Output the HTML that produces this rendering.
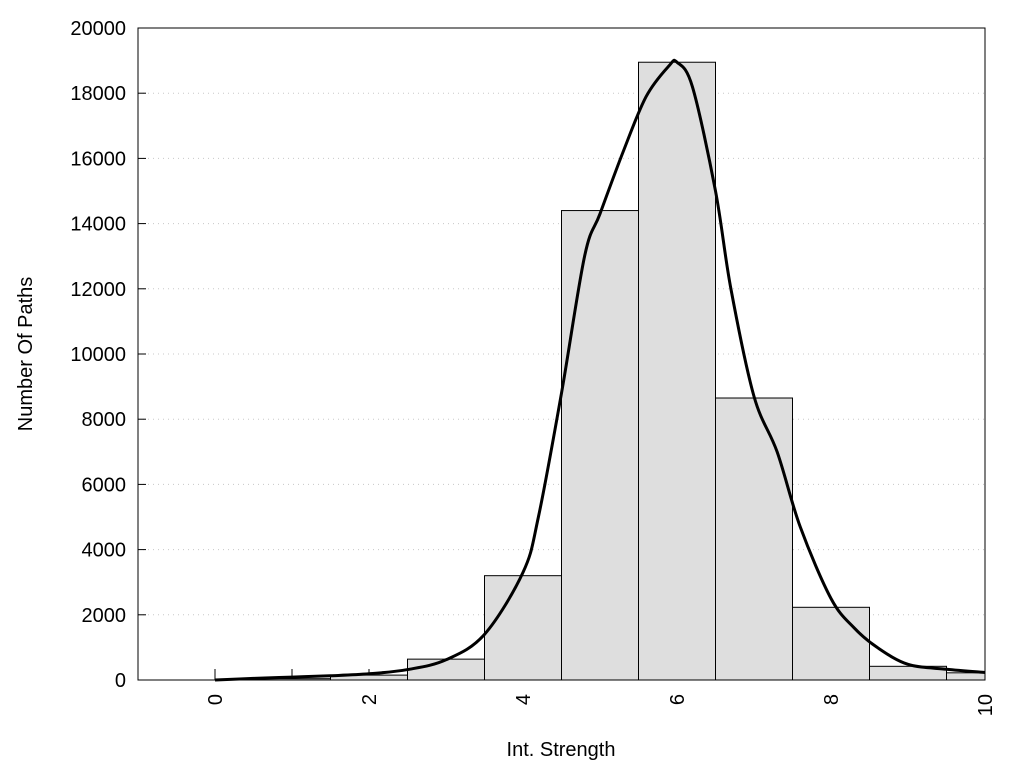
<!DOCTYPE html>
<html><head><meta charset="utf-8"><style>
body{margin:0;background:#fff}
svg text{font-family:"Liberation Sans",sans-serif;fill:#000}
</style></head><body>
<svg id="chart" width="1024" height="768" viewBox="0 0 1024 768" xmlns="http://www.w3.org/2000/svg">
<g id="grid"></g><g id="bars"></g><g id="curve"></g><g id="axes"></g>
</svg>
<script>
const barCenters=[0,1,2,3,4,5,6,7,8,9,10];
const barValues=[0,40,150,640,3200,14400,18950,8650,2230,420,220];
const curveX=[0,0.5,1,1.5,2,2.5,3,3.5,4,4.2,4.5,4.8,5,5.3,5.6,5.9,6,6.2,6.5,6.7,7,7.3,7.6,8,8.3,8.6,9,9.5,10];
const curveY=[0,50,90,130,190,320,620,1400,3300,5000,8800,13000,14300,16200,17900,18850,18950,18200,15000,12000,8700,7000,4700,2500,1600,1000,480,330,230];
const yTicks=[0,2000,4000,6000,8000,10000,12000,14000,16000,18000,20000];
const xTickLabels=[0,2,4,6,8,10];
const xMinorTicks=[0,1,2,3,4,5,6,7,8,9,10];
const L=138,R=985,T=28,B=680,XMIN=-1,XMAX=10,YMAX=20000;
const sx=v=>L+(v-XMIN)/(XMAX-XMIN)*(R-L);
const sy=v=>B-v/YMAX*(B-T);
const NS="http://www.w3.org/2000/svg";
function mk(tag,parent,attrs){const e=document.createElementNS(NS,tag);for(const k in attrs)e.setAttribute(k,attrs[k]);parent.appendChild(e);return e;}
const grid=document.getElementById('grid'),bars=document.getElementById('bars'),curve=document.getElementById('curve'),axes=document.getElementById('axes');
yTicks.forEach(v=>{if(v===0||v===YMAX)return;
 const g=mk('line',grid,{x1:L,x2:R,y1:sy(v),y2:sy(v),stroke:'#c8c8c8','stroke-dasharray':'1,4','stroke-width':1});
 
 });
xMinorTicks.forEach(v=>{const t=mk('line',grid,{x1:sx(v),x2:sx(v),y1:B,y2:B-11,stroke:'#000','stroke-width':1});
 
 });
barCenters.forEach((c,i)=>{let x0=Math.max(sx(c-0.5),sx(0)),x1=Math.min(sx(c+0.5),R);
 if(c===0)x1=sx(0.5);
 const r=mk('rect',bars,{x:x0,y:sy(barValues[i]),width:x1-x0,height:B-sy(barValues[i]),fill:'#dedede',stroke:'#000','stroke-width':1});
 
 });
const px=curveX.map(sx),py=curveY.map(sy);
let d='M'+px[0]+','+py[0];
for(let i=0;i<px.length-1;i++){const p0=i?i-1:i,p3=i+2<px.length?i+2:i+1;
 const c1x=px[i]+(px[i+1]-px[p0])/6,c1y=py[i]+(py[i+1]-py[p0])/6;
 const c2x=px[i+1]-(px[p3]-px[i])/6,c2y=py[i+1]-(py[p3]-py[i])/6;
 d+=` C${c1x},${c1y} ${c2x},${c2y} ${px[i+1]},${py[i+1]}`;}
const path=mk('path',curve,{d:d,fill:'none',stroke:'#000','stroke-width':3});


const frame=mk('rect',axes,{x:L,y:T,width:R-L,height:B-T,fill:'none',stroke:'#000','stroke-width':1});


yTicks.forEach(v=>{const t=mk('line',axes,{x1:L,x2:L+8,y1:sy(v),y2:sy(v),stroke:'#000'});
 
 
 const tx=mk('text',axes,{x:L-12,y:sy(v)+7,'text-anchor':'end','font-size':20});tx.textContent=v;
 
 });
xTickLabels.forEach(v=>{const x=sx(v)+7,y=B+14;
 const tx=mk('text',axes,{x:x,y:y,'text-anchor':'end','font-size':20,transform:`rotate(-90 ${x} ${y})`});tx.textContent=v;
 
 });
const xt=mk('text',axes,{x:561,y:756,'text-anchor':'middle','font-size':20});xt.textContent='Int. Strength';


const yt=mk('text',axes,{x:32,y:354,'text-anchor':'middle','font-size':20,transform:'rotate(-90 32 354)'});yt.textContent='Number Of Paths';


</script>
</body></html>
